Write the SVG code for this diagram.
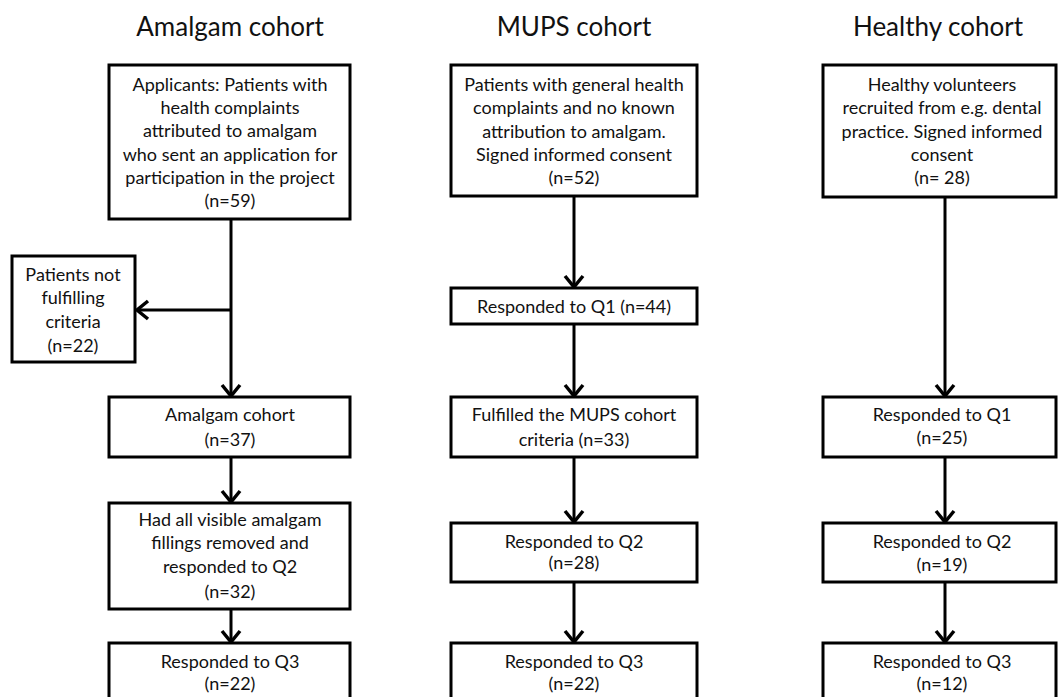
<svg xmlns="http://www.w3.org/2000/svg" width="1058" height="697" viewBox="0 0 1058 697">
<defs>
<marker id="arr" markerUnits="userSpaceOnUse" viewBox="-14 -11 16 22" refX="0" refY="0" markerWidth="16" markerHeight="22" orient="auto" overflow="visible">
<path d="M-11,-9 L0,0 L-11,9" fill="none" stroke="#000" stroke-width="3.5" stroke-linejoin="miter"/>
</marker>
</defs>
<style>
rect{fill:#fff;stroke:#000;stroke-width:3}
text{font-family:"Lato","Liberation Sans",sans-serif;font-size:18px;fill:#111;text-anchor:middle}
.t{font-size:26px}
.c{fill:none;stroke:#000;stroke-width:3;marker-end:url(#arr)}
</style>
<rect x="0" y="0" width="1058" height="697" style="stroke:none"/>
<text class="t" x="230" y="36">Amalgam cohort</text>
<text class="t" x="574" y="36">MUPS cohort</text>
<text class="t" x="938" y="36">Healthy cohort</text>

<g id="connectors">
<path class="c" d="M231,219 V396"/>
<path class="c" d="M231,310 H137"/>
<path class="c" d="M231,457 V502"/>
<path class="c" d="M231,609 V642"/>
<path class="c" d="M574,196 V287"/>
<path class="c" d="M574,324 V396"/>
<path class="c" d="M574,457 V522"/>
<path class="c" d="M574,582 V642"/>
<path class="c" d="M945,197 V396"/>
<path class="c" d="M945,457 V522"/>
<path class="c" d="M945,582 V642"/>
</g>

<g id="a1"><rect x="109" y="65" width="241" height="154"/>
<text x="230" y="91">Applicants: Patients with</text>
<text x="230" y="114">health complaints</text>
<text x="230" y="137">attributed to amalgam</text>
<text x="230" y="161">who sent an application for</text>
<text x="230" y="184">participation in the project</text>
<text x="230" y="207">(n=59)</text></g>

<g id="a_ex"><rect x="12" y="256" width="123" height="106"/>
<text x="73" y="281">Patients not</text>
<text x="73" y="304">fulfilling</text>
<text x="73" y="328">criteria</text>
<text x="73" y="352">(n=22)</text></g>

<g id="a2"><rect x="109" y="397" width="241" height="60"/>
<text x="230" y="421">Amalgam cohort</text>
<text x="230" y="446">(n=37)</text></g>

<g id="a3"><rect x="109" y="503" width="241" height="106"/>
<text x="230" y="526">Had all visible amalgam</text>
<text x="230" y="549">fillings removed and</text>
<text x="230" y="573">responded to Q2</text>
<text x="230" y="598">(n=32)</text></g>

<g id="a4"><rect x="109" y="643" width="241" height="80"/>
<text x="230" y="668">Responded to Q3</text>
<text x="230" y="690">(n=22)</text></g>

<g id="m1"><rect x="451" y="65" width="246" height="131"/>
<text x="574" y="91">Patients with general health</text>
<text x="574" y="114">complaints and no known</text>
<text x="574" y="138">attribution to amalgam.</text>
<text x="574" y="161">Signed informed consent</text>
<text x="574" y="184">(n=52)</text></g>

<g id="m2"><rect x="451" y="288" width="246" height="36"/>
<text x="574" y="313">Responded to Q1 (n=44)</text></g>

<g id="m3"><rect x="451" y="397" width="246" height="60"/>
<text x="574" y="421">Fulfilled the MUPS cohort</text>
<text x="574" y="446">criteria (n=33)</text></g>

<g id="m4"><rect x="451" y="523" width="246" height="59"/>
<text x="574" y="548">Responded to Q2</text>
<text x="574" y="569">(n=28)</text></g>

<g id="m5"><rect x="451" y="643" width="246" height="80"/>
<text x="574" y="668">Responded to Q3</text>
<text x="574" y="690">(n=22)</text></g>

<g id="h1"><rect x="823" y="65" width="233" height="132"/>
<text x="942" y="91">Healthy volunteers</text>
<text x="942" y="114">recruited from e.g. dental</text>
<text x="942" y="138">practice. Signed informed</text>
<text x="942" y="161">consent</text>
<text x="942" y="184">(n= 28)</text></g>

<g id="h2"><rect x="823" y="397" width="233" height="60"/>
<text x="942" y="421">Responded to Q1</text>
<text x="942" y="444">(n=25)</text></g>

<g id="h3"><rect x="823" y="523" width="233" height="59"/>
<text x="942" y="548">Responded to Q2</text>
<text x="942" y="571">(n=19)</text></g>

<g id="h4"><rect x="823" y="643" width="233" height="80"/>
<text x="942" y="668">Responded to Q3</text>
<text x="942" y="690">(n=12)</text></g>
</svg>
